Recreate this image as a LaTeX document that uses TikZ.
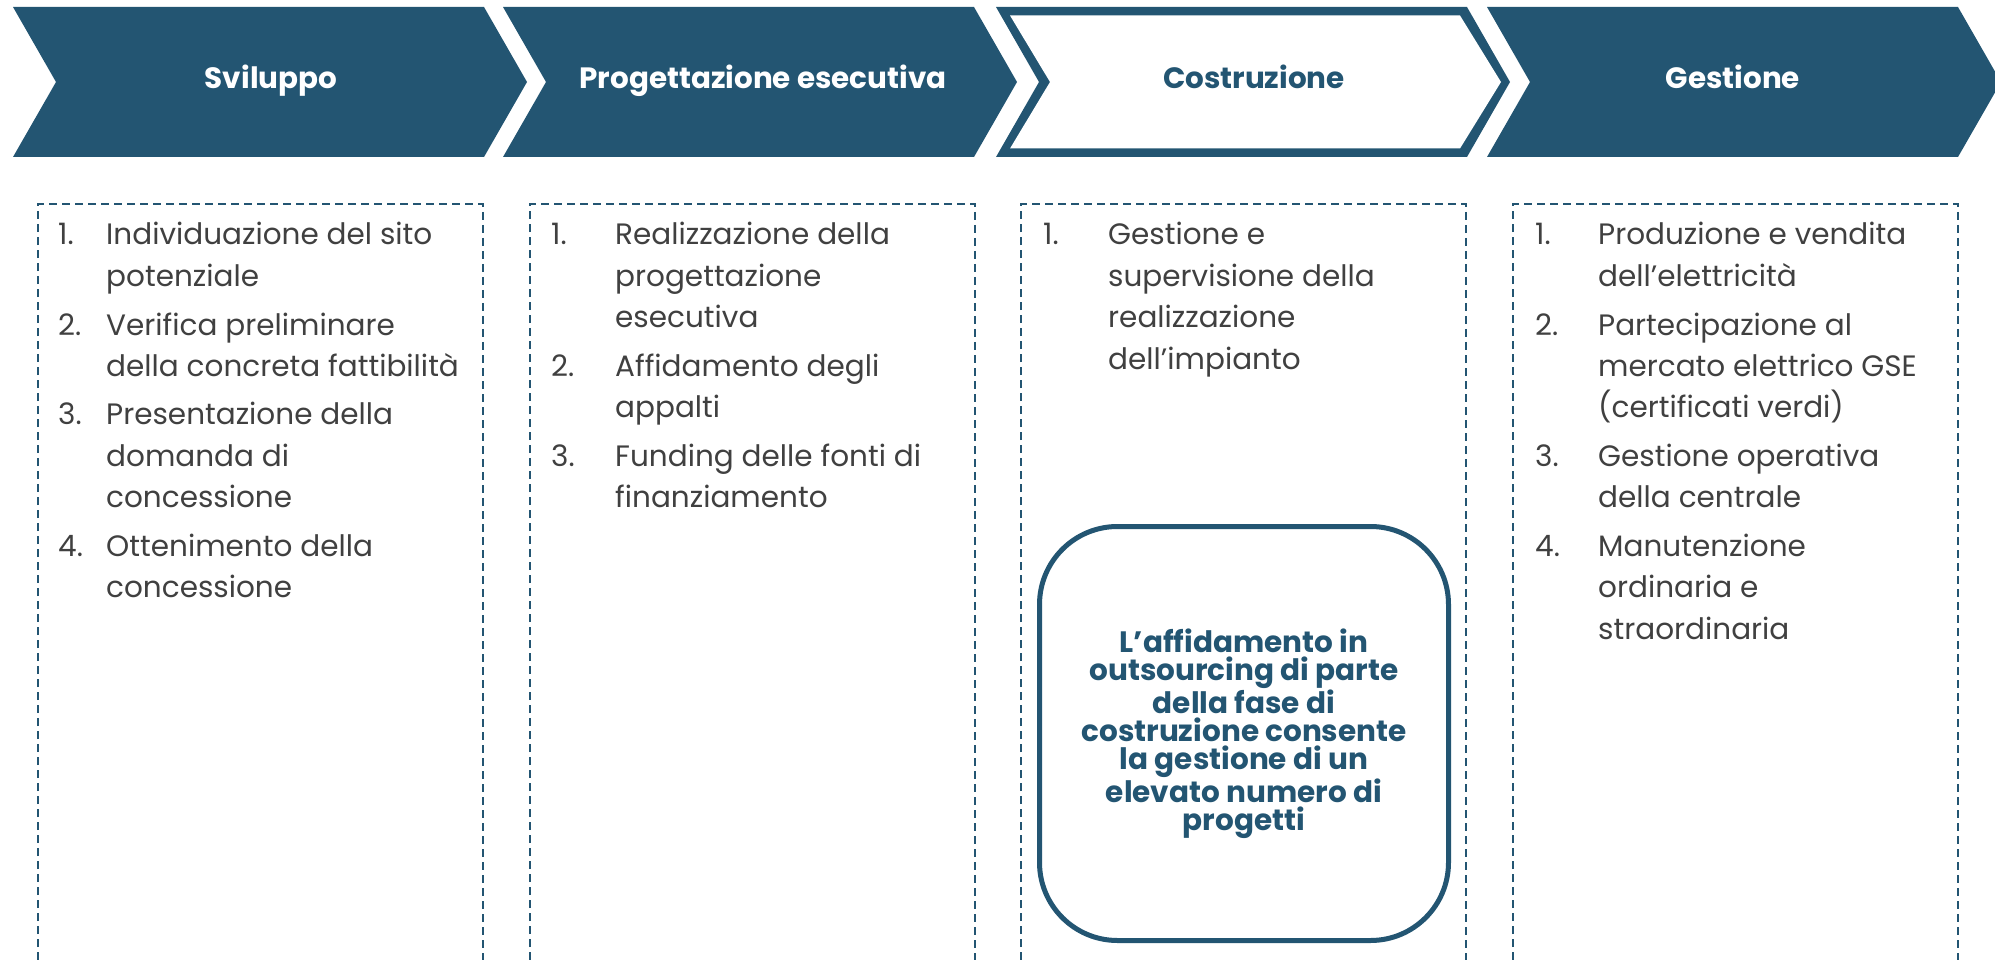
\documentclass[tikz,border=0pt]{standalone}
\usepackage{fontspec}
\usepackage{array}
\setmainfont{Poppins}
\definecolor{blu}{RGB}{35,85,114}
\definecolor{testo}{RGB}{64,64,64}

\tikzset{
  fase/.style={fill=blu},
  titolo/.style={anchor=base, inner sep=0pt, font=\fontsize{29.4}{34}\selectfont\bfseries, text=white},
  riquadro/.style={draw=blu, line width=2pt, dash pattern=on 8pt off 5pt},
  elenco/.style={anchor=base west, inner sep=0pt, text=testo, font=\fontsize{29.5}{41.5}\selectfont},
  nota/.style={draw=blu, line width=5pt, rounded corners=78pt, fill=white,
    minimum width=409pt, minimum height=414pt, align=center, text=blu,
    font=\fontsize{29.5}{28}\selectfont\bfseries}
}

\begin{document}
\begin{tikzpicture}[x=1pt,y=-1pt]
\useasboundingbox (0,0) rectangle (1995,960);

% fasi
\fill[fase] (13,7) -- (484,7) -- (527,82) -- (484,157) -- (13,157) -- (56,82) -- cycle;
\fill[fase] (503,7) -- (974,7) -- (1017,82) -- (974,157) -- (503,157) -- (546,82) -- cycle;
\fill[fase] (996,7) -- (1467,7) -- (1510,82) -- (1467,157) -- (996,157) -- (1039,82) -- cycle;
\fill[white] (1010,15.5) -- (1460,15.5) -- (1501,82) -- (1460,148.5) -- (1010,148.5) -- (1050,82) -- cycle;
\fill[fase] (1487,7) -- (1958,7) -- (2001,82) -- (1958,157) -- (1487,157) -- (1530,82) -- cycle;

\node[titolo] (sviluppo) at (271,89) {Sviluppo};
\node[titolo] (progettazione) at (763,89) {Progettazione esecutiva};
\node[titolo, text=blu] (costruzione) at (1254,89) {Costruzione};
\node[titolo] (gestione) at (1733,89) {Gestione};

% riquadri
\draw[riquadro] (38,960) -- (38,204) -- (483,204) -- (483,960);
\draw[riquadro] (530,960) -- (530,204) -- (975,204) -- (975,960);
\draw[riquadro] (1021,960) -- (1021,204) -- (1466,204) -- (1466,960);
\draw[riquadro] (1513,960) -- (1513,204) -- (1958,204) -- (1958,960);

% attivita
\node[elenco] (lista1) at (58,245) {\begin{tabular}[t]{@{}p{48pt}@{}l@{}}
1. & Individuazione del sito\\ & potenziale\\[7pt]
2. & Verifica preliminare\\ & della concreta fattibilità\\[7pt]
3. & Presentazione della\\ & domanda di\\ & concessione\\[7pt]
4. & Ottenimento della\\ & concessione
\end{tabular}};
\node[elenco] (lista2) at (551,245) {\begin{tabular}[t]{@{}p{64pt}@{}l@{}}
1. & Realizzazione della\\ & progettazione\\ & esecutiva\\[7pt]
2. & Affidamento degli\\ & appalti\\[7pt]
3. & Funding delle fonti di\\ & finanziamento
\end{tabular}};
\node[elenco] (lista3) at (1043,245) {\begin{tabular}[t]{@{}p{65pt}@{}l@{}}
1. & Gestione e\\ & supervisione della\\ & realizzazione\\ & dell’impianto
\end{tabular}};
\node[elenco] (lista4) at (1535,245) {\begin{tabular}[t]{@{}p{63pt}@{}l@{}}
1. & Produzione e vendita\\ & dell’elettricità\\[7pt]
2. & Partecipazione al\\ & mercato elettrico GSE\\ & (certificati verdi)\\[7pt]
3. & Gestione operativa\\ & della centrale\\[7pt]
4. & Manutenzione\\ & ordinaria e\\ & straordinaria
\end{tabular}};

\node[nota] (outsourcing) at (1244,733.5) {L’affidamento in\\outsourcing di parte\\della fase di\\costruzione consente\\la gestione di un\\elevato numero di\\progetti};
\end{tikzpicture}
\end{document}
